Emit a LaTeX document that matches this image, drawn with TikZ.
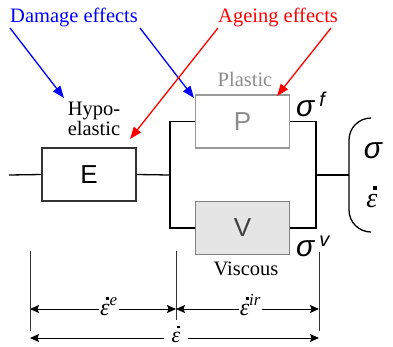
\documentclass[tikz,border=0pt]{standalone}
\usepackage{fontspec}
\setmainfont{Liberation Serif}
\setsansfont{Liberation Sans}
\newfontfamily\tnrfont{Liberation Serif}
\usetikzlibrary{arrows.meta}
\newcommand{\edot}{{\tnrfont\itshape\rlap{\hspace{0.25em}\raisebox{0.62em}{\rule{0.13em}{0.13em}}}ε}}
\begin{document}
\begin{tikzpicture}[x=1pt,y=-1pt,
  wire/.style={line width=1.3pt,black},
  elbox/.style={line width=1.3pt,minimum width=94pt,minimum height=53pt,inner sep=0pt,font=\sffamily\fontsize{26}{26}\selectfont},
  lbl/.style={font=\tnrfont\fontsize{20.5}{20.5}\selectfont,inner sep=0pt},
  effarrow/.style={line width=1.3pt,-{Triangle[length=12pt,width=9pt]}},
  dimline/.style={line width=0.9pt,black!80},
  dimarrow/.style={line width=1pt,{Stealth[length=9pt,width=8pt,inset=1.5pt]}-{Stealth[length=9pt,width=8pt,inset=1.5pt]}},
  sig/.style={font=\sffamily\itshape\fontsize{30}{30}\selectfont,inner sep=0pt},
  eps/.style={font=\tnrfont\fontsize{24}{24}\selectfont,inner sep=1pt}]
\useasboundingbox (0,0) rectangle (393,346);
% boxes
\node[elbox,draw=black!80] (E) at (89,174.5) {E};
\node[elbox,draw=black!40,text=black!45] (P) at (242.5,121.5) {P};
\node[elbox,draw=black!50,fill=black!10,text=black!75] (V) at (242.5,228) {V};
% wires
\coordinate (L) at (9,175);
\coordinate (J1) at (170,175);
\coordinate (J2) at (316,175);
\coordinate (B) at (349,175);
\draw[wire] (L) -- (E.west);
\draw[wire] (E.east) -- (J1);
\draw[wire] (P.west) -| (J1) |- (V.west);
\draw[wire] (P.east) -| (J2) |- (V.east);
\draw[wire] (J2) -- (B);
% parenthesis
\coordinate (PT) at (371,118);
\coordinate (PB) at (371,232);
\draw[wire,rounded corners=22pt] (PT) -- (349,118) -- (349,232) -- (PB);
\node[sig] (s) at (373,151) {σ};
\node[eps,font=\tnrfont\fontsize{28}{28}\selectfont] (ed) at (372,197) {\edot};
\node[sig,anchor=base west] (sf) at (296,116) {σ\,\textsuperscript{\fontsize{20}{20}\selectfont f}};
\node[sig,anchor=base west] (sv) at (296,256) {σ\,\textsuperscript{\fontsize{20}{20}\selectfont v}};
% labels
\node[lbl,text=blue,anchor=base west] (dam) at (10,22) {Damage effects};
\node[lbl,text=red,anchor=base west] (age) at (218,22) {Ageing effects};
\node[lbl,align=center] (hypo) at (94,119) {Hypo-\\[-1pt]elastic};
\node[lbl,text=black!45] (plast) at (245,79) {Plastic};
\node[lbl] (visc) at (246,269) {Viscous};
% effect arrows
\coordinate (d1) at (10,28); \coordinate (d1e) at (64,98);
\coordinate (d2) at (140,28); \coordinate (d2e) at (194,98);
\coordinate (a1) at (218,28); \coordinate (a1e) at (130,139);
\coordinate (a2) at (331,28); \coordinate (a2e) at (277,96);
\draw[effarrow,blue] (d1) -- (d1e);
\draw[effarrow,blue] (d2) -- (d2e);
\draw[effarrow,red] (a1) -- (a1e);
\draw[effarrow,red] (a2) -- (a2e);
% dimension lines
\coordinate (v1a) at (30,251); \coordinate (v1b) at (30,331);
\coordinate (v2a) at (176,251); \coordinate (v2b) at (176,320);
\coordinate (v3a) at (319,252); \coordinate (v3b) at (319,331);
\draw[dimline] (v1a) -- (v1b);
\draw[dimline] (v2a) -- (v2b);
\draw[dimline] (v3a) -- (v3b);
\coordinate (r1l) at (30,309); \coordinate (r1m) at (176,309); \coordinate (r1r) at (319,309);
\coordinate (r2l) at (30,338); \coordinate (r2r) at (319,338);
\draw[dimarrow] (r1l) -- (r1m) node[pos=0.54,fill=white,eps,anchor=base,yshift=-6pt] (ee) {\edot\textsuperscript{\itshape e}};
\draw[dimarrow] (r1m) -- (r1r) node[pos=0.52,fill=white,eps,anchor=base,yshift=-6pt] (eir) {\edot\textsuperscript{\itshape ir}};
\draw[dimarrow] (r2l) -- (r2r) node[pos=0.505,fill=white,eps,inner xsep=8pt,inner ysep=0pt,anchor=base,yshift=-4pt,font=\tnrfont\fontsize{22}{22}\selectfont] (et) {\edot};
\end{tikzpicture}
\end{document}
